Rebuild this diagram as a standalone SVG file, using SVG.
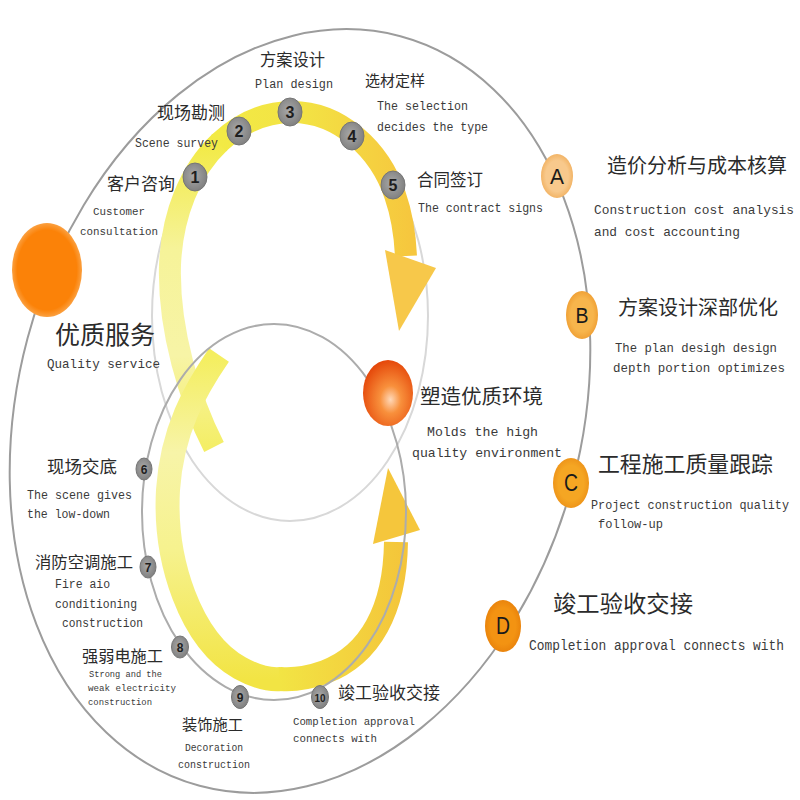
<svg xmlns="http://www.w3.org/2000/svg" width="800" height="800" viewBox="0 0 800 800">
<defs>
<style>
.cn{font-family:"Noto Sans CJK SC","Noto Sans",sans-serif;fill:#2b2b2b;}
.en{font-family:"Liberation Mono","DejaVu Sans Mono",monospace;fill:#3a3a3a;}
.num{font-family:"Liberation Sans","DejaVu Sans",sans-serif;font-weight:bold;fill:#1e1e1e;text-anchor:middle;}
.let{font-family:"Liberation Sans","DejaVu Sans",sans-serif;fill:#1a1a1a;text-anchor:middle;}
.nd{fill:url(#gGray);stroke:#767676;stroke-width:1;}
.band{fill:none;stroke-linecap:butt;}
</style>
<radialGradient id="gGray" cx="0.45" cy="0.45" r="0.6">
<stop offset="0" stop-color="#a9a9a9"/><stop offset="1" stop-color="#7d7d7d"/>
</radialGradient>
<linearGradient id="gUpA" gradientUnits="userSpaceOnUse" x1="0" y1="447" x2="0" y2="142">
<stop offset="0" stop-color="#f4ee66"/><stop offset="0.3" stop-color="#f7f4a6"/><stop offset="0.65" stop-color="#f6f399"/><stop offset="1" stop-color="#f2ea45"/>
</linearGradient>
<linearGradient id="gUpB" gradientUnits="userSpaceOnUse" x1="220" y1="0" x2="410" y2="0">
<stop offset="0" stop-color="#f2ea45"/><stop offset="0.45" stop-color="#f3e244"/><stop offset="1" stop-color="#f6c73e"/>
</linearGradient>
<linearGradient id="gLoA" gradientUnits="userSpaceOnUse" x1="0" y1="355" x2="0" y2="680">
<stop offset="0" stop-color="#f4ee5e"/><stop offset="0.3" stop-color="#f7f4a8"/><stop offset="0.6" stop-color="#f6f28e"/><stop offset="1" stop-color="#f2e444"/>
</linearGradient>
<linearGradient id="gLoB" gradientUnits="userSpaceOnUse" x1="280" y1="0" x2="405" y2="0">
<stop offset="0" stop-color="#f2e444"/><stop offset="1" stop-color="#f4c53a"/>
</linearGradient>
<radialGradient id="gBall" cx="0.55" cy="0.6" r="0.6">
<stop offset="0" stop-color="#ffd8b8"/><stop offset="0.35" stop-color="#f8903c"/><stop offset="1" stop-color="#e5480a"/>
</radialGradient>
<radialGradient id="gBig" cx="0.5" cy="0.5" r="0.5">
<stop offset="0.85" stop-color="#fb8208"/><stop offset="1" stop-color="#fba040"/>
</radialGradient>
<radialGradient id="gA" cx="0.5" cy="0.5" r="0.5"><stop offset="0.7" stop-color="#f8c98c"/><stop offset="1" stop-color="#f2b466"/></radialGradient>
<radialGradient id="gB" cx="0.5" cy="0.5" r="0.5"><stop offset="0.7" stop-color="#f7b54c"/><stop offset="1" stop-color="#f0a136"/></radialGradient>
<radialGradient id="gC" cx="0.5" cy="0.5" r="0.5"><stop offset="0.7" stop-color="#f5a623"/><stop offset="1" stop-color="#ee951a"/></radialGradient>
<radialGradient id="gD" cx="0.5" cy="0.5" r="0.5"><stop offset="0.7" stop-color="#f39312"/><stop offset="1" stop-color="#ea840c"/></radialGradient>
</defs>
<rect width="800" height="800" fill="#ffffff"/>

<g id="connectors">
<ellipse cx="300" cy="411" rx="282" ry="388" transform="rotate(15 300 411)" fill="none" stroke="#9c9c9c" stroke-width="2"/>
<ellipse cx="290" cy="316" rx="138" ry="205" fill="none" stroke="#d8d8d8" stroke-width="2"/>
<path class="band" stroke="url(#gUpA)" stroke-width="22" d="M 214 447 C 190 400, 168 330, 170 265 C 172 215, 190 170, 220 142"/>
<path class="band" stroke="url(#gUpB)" stroke-width="22" d="M 218.5 143.4 L 220 142 C 244 120, 268 112, 292 112 C 340 112, 380 150, 395 195 C 402 215, 405 235, 406 256"/>
<polygon points="385,250 436,268 399,331" fill="#f7c84a"/>
<path class="band" stroke="url(#gLoA)" stroke-width="24" d="M 219 355 C 195 390, 172 430, 168 490 C 164 560, 190 640, 240 668 C 258 678, 270 680, 281 679"/>
<path class="band" stroke="url(#gLoB)" stroke-width="24" d="M 279.5 679.1 L 281 679 C 296 680, 311 677, 325 672 C 370 655, 395 610, 396 542"/>
<polygon points="373,544 388,468 420,530" fill="#f5c63c"/>
<ellipse cx="274" cy="512" rx="132" ry="188" fill="none" stroke="#acacac" stroke-width="2"/>
</g>

<g id="big-dot"><ellipse cx="47" cy="270" rx="35" ry="47" fill="url(#gBig)"/></g>
<g id="quality-service">
<text class="cn" x="55" y="344" font-size="25" textLength="100" lengthAdjust="spacingAndGlyphs">优质服务</text>
<text class="en" x="47" y="368" font-size="13" textLength="113" lengthAdjust="spacingAndGlyphs">Quality service</text>
</g>
<g id="center-ball">
<ellipse cx="388" cy="393" rx="25" ry="33" fill="url(#gBall)"/>
<text class="cn" x="420" y="404" font-size="20" textLength="123" lengthAdjust="spacingAndGlyphs">塑造优质环境</text>
<text class="en" x="427" y="436" font-size="13.5" textLength="111" lengthAdjust="spacingAndGlyphs">Molds the high</text>
<text class="en" x="412" y="457" font-size="13.5" textLength="150" lengthAdjust="spacingAndGlyphs">quality environment</text>
</g>

<g id="n1"><ellipse class="nd" cx="195" cy="177" rx="12" ry="14"/><text class="num" x="195" y="183" font-size="16">1</text>
<text class="cn" x="107" y="190" font-size="17" textLength="68" lengthAdjust="spacingAndGlyphs">客户咨询</text>
<text class="en" x="119" y="215" font-size="11.5" text-anchor="middle" textLength="52" lengthAdjust="spacingAndGlyphs">Customer</text>
<text class="en" x="119" y="235" font-size="11.5" text-anchor="middle" textLength="78" lengthAdjust="spacingAndGlyphs">consultation</text></g>
<g id="n2"><ellipse class="nd" cx="239" cy="131" rx="12" ry="14"/><text class="num" x="239" y="137" font-size="16">2</text>
<text class="cn" x="157" y="119" font-size="17" textLength="68" lengthAdjust="spacingAndGlyphs">现场勘测</text>
<text class="en" x="135" y="147" font-size="12" textLength="83" lengthAdjust="spacingAndGlyphs">Scene survey</text></g>
<g id="n3"><ellipse class="nd" cx="290" cy="112" rx="12" ry="14"/><text class="num" x="290" y="118" font-size="16">3</text>
<text class="cn" x="260" y="66" font-size="17" textLength="65" lengthAdjust="spacingAndGlyphs">方案设计</text>
<text class="en" x="255" y="88" font-size="12" textLength="78" lengthAdjust="spacingAndGlyphs">Plan design</text></g>
<g id="n4"><ellipse class="nd" cx="352" cy="136" rx="12" ry="14"/><text class="num" x="352" y="142" font-size="16">4</text>
<text class="cn" x="365" y="86" font-size="15" textLength="60" lengthAdjust="spacingAndGlyphs">选材定样</text>
<text class="en" x="377" y="110" font-size="12" textLength="91" lengthAdjust="spacingAndGlyphs">The selection</text>
<text class="en" x="377" y="131" font-size="12" textLength="111" lengthAdjust="spacingAndGlyphs">decides the type</text></g>
<g id="n5"><ellipse class="nd" cx="393" cy="185" rx="12" ry="14"/><text class="num" x="393" y="191" font-size="16">5</text>
<text class="cn" x="417" y="186" font-size="17" textLength="66" lengthAdjust="spacingAndGlyphs">合同签订</text>
<text class="en" x="418" y="212" font-size="12" textLength="125" lengthAdjust="spacingAndGlyphs">The contract signs</text></g>

<g id="n6"><ellipse class="nd" cx="144" cy="469" rx="8" ry="11"/><text class="num" x="144" y="474" font-size="12">6</text>
<text class="cn" x="47" y="473" font-size="17" textLength="70" lengthAdjust="spacingAndGlyphs">现场交底</text>
<text class="en" x="27" y="499" font-size="12" textLength="105" lengthAdjust="spacingAndGlyphs">The scene gives</text>
<text class="en" x="27" y="518" font-size="12" textLength="83" lengthAdjust="spacingAndGlyphs">the low-down</text></g>
<g id="n7"><ellipse class="nd" cx="148" cy="567" rx="8" ry="11"/><text class="num" x="148" y="572" font-size="12">7</text>
<text class="cn" x="35" y="568" font-size="16" textLength="98" lengthAdjust="spacingAndGlyphs">消防空调施工</text>
<text class="en" x="55" y="588" font-size="12" textLength="55" lengthAdjust="spacingAndGlyphs">Fire aio</text>
<text class="en" x="55" y="608" font-size="12" textLength="82" lengthAdjust="spacingAndGlyphs">conditioning</text>
<text class="en" x="62" y="627" font-size="12" textLength="81" lengthAdjust="spacingAndGlyphs">construction</text></g>
<g id="n8"><ellipse class="nd" cx="180" cy="647" rx="8.5" ry="11"/><text class="num" x="180" y="652" font-size="12">8</text>
<text class="cn" x="82" y="662" font-size="16" textLength="81" lengthAdjust="spacingAndGlyphs">强弱电施工</text>
<text class="en" x="89" y="677" font-size="9" textLength="73" lengthAdjust="spacingAndGlyphs">Strong and the</text>
<text class="en" x="88" y="691" font-size="9" textLength="88" lengthAdjust="spacingAndGlyphs">weak electricity</text>
<text class="en" x="88" y="705" font-size="9" textLength="64" lengthAdjust="spacingAndGlyphs">construction</text></g>
<g id="n9"><ellipse class="nd" cx="240" cy="697" rx="8.5" ry="11.5"/><text class="num" x="240" y="702" font-size="12">9</text>
<text class="cn" x="182" y="730" font-size="15" textLength="61" lengthAdjust="spacingAndGlyphs">装饰施工</text>
<text class="en" x="214" y="751" font-size="11.5" text-anchor="middle" textLength="58" lengthAdjust="spacingAndGlyphs">Decoration</text>
<text class="en" x="214" y="768" font-size="11.5" text-anchor="middle" textLength="72" lengthAdjust="spacingAndGlyphs">construction</text></g>
<g id="n10"><ellipse class="nd" cx="320" cy="697" rx="8.5" ry="11.5"/><text class="num" x="320" y="702" font-size="11" textLength="11" lengthAdjust="spacingAndGlyphs">10</text>
<text class="cn" x="338" y="699" font-size="17" textLength="102" lengthAdjust="spacingAndGlyphs">竣工验收交接</text>
<text class="en" x="293" y="725" font-size="11" textLength="122" lengthAdjust="spacingAndGlyphs">Completion approval</text>
<text class="en" x="293" y="742" font-size="11" textLength="84" lengthAdjust="spacingAndGlyphs">connects with</text></g>

<g id="nA"><ellipse cx="557" cy="176" rx="16" ry="22" fill="url(#gA)"/><text class="let" x="557" y="184" font-size="22" textLength="14" lengthAdjust="spacingAndGlyphs">A</text>
<text class="cn" x="607" y="173" font-size="20" textLength="180" lengthAdjust="spacingAndGlyphs">造价分析与成本核算</text>
<text class="en" x="594" y="214" font-size="13" textLength="200" lengthAdjust="spacingAndGlyphs">Construction cost analysis</text>
<text class="en" x="594" y="236" font-size="13" textLength="146" lengthAdjust="spacingAndGlyphs">and cost accounting</text></g>
<g id="nB"><ellipse cx="582" cy="315" rx="16" ry="24" fill="url(#gB)"/><text class="let" x="582" y="323" font-size="22" textLength="13" lengthAdjust="spacingAndGlyphs">B</text>
<text class="cn" x="618" y="315" font-size="20" textLength="160" lengthAdjust="spacingAndGlyphs">方案设计深部优化</text>
<text class="en" x="615" y="352" font-size="13" textLength="162" lengthAdjust="spacingAndGlyphs">The plan desigh design</text>
<text class="en" x="613" y="372" font-size="13" textLength="172" lengthAdjust="spacingAndGlyphs">depth portion optimizes</text></g>
<g id="nC"><ellipse cx="571" cy="483" rx="18" ry="25" fill="url(#gC)"/><text class="let" x="571" y="491" font-size="23" textLength="14" lengthAdjust="spacingAndGlyphs">C</text>
<text class="cn" x="598" y="472" font-size="22" textLength="175" lengthAdjust="spacingAndGlyphs">工程施工质量跟踪</text>
<text class="en" x="591" y="509" font-size="12.2" textLength="198" lengthAdjust="spacingAndGlyphs">Project construction quality</text>
<text class="en" x="598" y="528" font-size="12.2" textLength="65" lengthAdjust="spacingAndGlyphs">follow-up</text></g>
<g id="nD"><ellipse cx="503" cy="626" rx="18" ry="26" fill="url(#gD)"/><text class="let" x="503" y="634" font-size="23" textLength="14" lengthAdjust="spacingAndGlyphs">D</text>
<text class="cn" x="553" y="612" font-size="23" textLength="140" lengthAdjust="spacingAndGlyphs">竣工验收交接</text>
<text class="en" transform="translate(529 650) scale(1 1.15)" x="0" y="0" font-size="13.3" textLength="255" lengthAdjust="spacingAndGlyphs">Completion approval connects with</text></g>
</svg>
